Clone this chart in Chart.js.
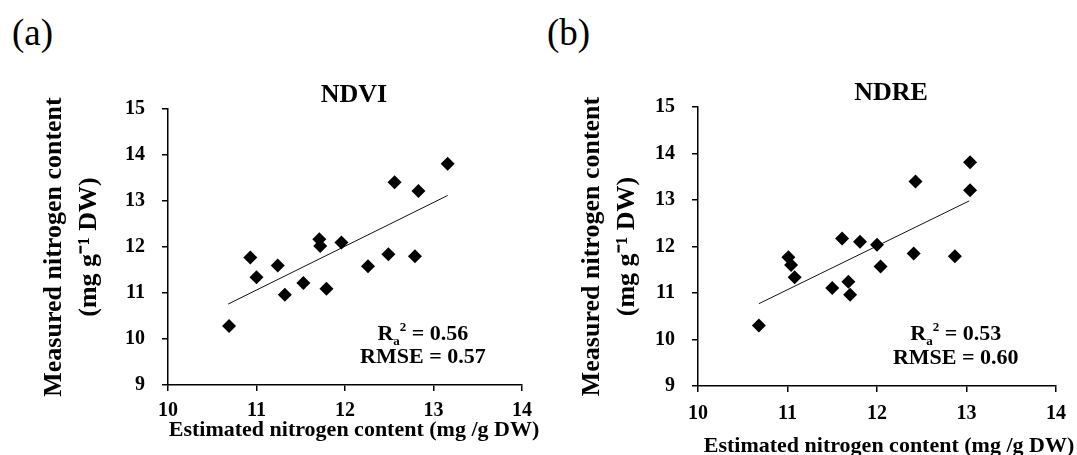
<!DOCTYPE html>
<html>
<head>
<meta charset="utf-8">
<title>NDVI / NDRE nitrogen estimation</title>
<script src="https://cdn.jsdelivr.net/npm/chart.js@4.4.0/dist/chart.umd.min.js"></script>
<style>
    body { margin: 0; background: #fff; width: 1077px; height: 455px; overflow: hidden; position: relative; }
    .tag { position: absolute; top: 14px; font: 37px/37px "Liberation Serif", "Times New Roman", serif; color: #000; }
    canvas { position: absolute; top: 0; }
</style>
</head>
<body>
<div class="tag" style="left:12px">(a)</div>
<div class="tag" style="left:547px">(b)</div>
<canvas id="ndviChart" width="540" height="455" style="left:0"></canvas>
<canvas id="ndreChart" width="547" height="470" style="left:530px"></canvas>

<script>
// Values
const ndviEstimated = [10.69, 10.93, 11.00, 11.24, 11.32, 11.53, 11.71, 11.72, 11.79, 11.96, 12.26, 12.49, 12.56, 12.79, 12.83, 13.16];
const ndviMeasured  = [10.28, 11.77, 11.34, 11.60, 10.96, 11.22, 12.17, 12.02, 11.09, 12.10, 11.58, 11.84, 13.41, 11.80, 13.22, 13.81];
const ndreEstimated = [10.68, 11.01, 11.04, 11.08, 11.50, 11.61, 11.68, 11.70, 11.81, 12.00, 12.04, 12.41, 12.43, 12.87, 13.04, 13.04];
const ndreMeasured  = [10.30, 11.77, 11.60, 11.34, 11.11, 12.17, 11.24, 10.96, 12.10, 12.04, 11.57, 11.85, 13.40, 11.79, 13.21, 13.81];

// Regression line end points
const ndviFitX = [10.68, 13.16];
const ndviFitY = [10.76, 13.12];
const ndreFitX = [10.68, 13.03];
const ndreFitY = [10.77, 12.98];

// Axis ranges
const xRange = [10, 14];
const yRange = [9, 15];

// Fit statistics
const ndviStats = ['0.56', '0.57'];
const ndreStats = ['0.53', '0.60'];

const SERIF = '"Liberation Serif", "Times New Roman", serif';
Chart.defaults.font.family = SERIF;
Chart.defaults.color = '#000';

function toPoints(xs, ys) {
    return xs.map((x, i) => ({ x: x, y: ys[i] }));
}

// Panel title, x axis title and R2 / RMSE text
const panelText = {
    id: 'panelText',
    afterDraw(chart, args, opts) {
        const { ctx, chartArea, scales } = chart;
        const mid = (chartArea.left + chartArea.right) / 2;
        ctx.save();
        ctx.fillStyle = '#000';
        ctx.textAlign = 'center';
        ctx.textBaseline = 'middle';

        ctx.font = 'bold 26px ' + SERIF;
        ctx.fillText(opts.title, mid + opts.titleShift, opts.titleY);

        ctx.font = 'bold 22px ' + SERIF;
        ctx.fillText('Estimated nitrogen content (mg /g DW)', mid + opts.xTitleShift, opts.xTitleY);

        const cx = scales.x.getPixelForValue(opts.statX);
        const y1 = scales.y.getPixelForValue(opts.statY[0]);
        const y2 = scales.y.getPixelForValue(opts.statY[1]);
        const big = 'bold 22px ' + SERIF;
        const small = 'bold 13px ' + SERIF;
        const parts = [
            ['R', big, 0],
            ['a', small, 5],
            ['2', small, -9],
            [' = ' + opts.stats[0], big, 0]
        ];
        ctx.textBaseline = 'alphabetic';
        ctx.textAlign = 'left';
        let total = 0;
        parts.forEach(p => { ctx.font = p[1]; total += ctx.measureText(p[0]).width; });
        let x = cx - total / 2;
        parts.forEach(p => {
            ctx.font = p[1];
            ctx.fillText(p[0], x, y1 + p[2]);
            x += ctx.measureText(p[0]).width;
        });

        ctx.font = big;
        ctx.textAlign = 'center';
        ctx.fillText('RMSE = ' + opts.stats[1], cx, y2);
        ctx.restore();
    }
};

function makeChart(id, cfg) {
    const ctx = document.getElementById(id).getContext('2d');
    return new Chart(ctx, {
        type: 'scatter',
        data: {
            datasets: [{
                data: toPoints(cfg.xs, cfg.ys),
                pointStyle: 'rectRot',
                pointRadius: 7,
                backgroundColor: '#000',
                borderColor: '#000',
                borderWidth: 0,
                order: 0
            }, {
                type: 'line',
                data: toPoints(cfg.fitX, cfg.fitY),
                borderColor: '#111',
                borderWidth: 1,
                pointRadius: 0,
                order: 1
            }]
        },
        options: {
            responsive: false,
            animation: false,
            layout: { padding: { top: cfg.top, right: cfg.right, bottom: 0, left: 0 } },
            plugins: {
                legend: { display: false },
                tooltip: { enabled: false },
                panelText: {
                    title: cfg.title,
                    titleShift: cfg.titleShift,
                    titleY: cfg.titleY,
                    xTitleShift: cfg.xTitleShift,
                    xTitleY: cfg.xTitleY,
                    statX: 12.88,
                    statY: [9.98, 9.48],
                    stats: cfg.stats
                }
            },
            scales: {
                x: {
                    type: 'linear',
                    min: xRange[0],
                    max: xRange[1],
                    afterFit: s => { s.height = cfg.xHeight; },
                    ticks: { stepSize: 1, padding: cfg.xTickPad, font: { size: 20, weight: 'bold' } },
                    grid: { drawOnChartArea: false, drawTicks: true, tickLength: 6, color: '#000', lineWidth: 1.5 },
                    border: { color: '#000', width: 1.5 }
                },
                y: {
                    type: 'linear',
                    min: yRange[0],
                    max: yRange[1],
                    afterFit: s => { s.width = 168; },
                    ticks: { stepSize: 1, padding: 17, font: { size: 20, weight: 'bold' } },
                    grid: { drawOnChartArea: false, drawTicks: true, tickLength: 6, color: '#000', lineWidth: 1.5 },
                    border: { color: '#000', width: 1.5 },
                    title: {
                        display: true,
                        text: ['Measured nitrogen content', '(mg g\u207B\u00B9 DW)'],
                        font: { size: 26, weight: 'bold', lineHeight: 1.35 },
                        padding: { top: cfg.yTitlePad, bottom: 0 }
                    }
                }
            }
        },
        plugins: [panelText]
    });
}

document.addEventListener('DOMContentLoaded', function() {
    makeChart('ndviChart', {
        xs: ndviEstimated, ys: ndviMeasured, fitX: ndviFitX, fitY: ndviFitY,
        title: 'NDVI', titleShift: 9, titleY: 95, stats: ndviStats,
        xTitleShift: 9, xTitleY: 430,
        top: 109, right: 18, xHeight: 70, xTickPad: 8, yTitlePad: 37
    });
    makeChart('ndreChart', {
        xs: ndreEstimated, ys: ndreMeasured, fitX: ndreFitX, fitY: ndreFitY,
        title: 'NDRE', titleShift: 14, titleY: 93, stats: ndreStats,
        xTitleShift: 12, xTitleY: 446,
        top: 107, right: 21, xHeight: 84, xTickPad: 10, yTitlePad: 45
    });
});
</script>
</body>
</html>
